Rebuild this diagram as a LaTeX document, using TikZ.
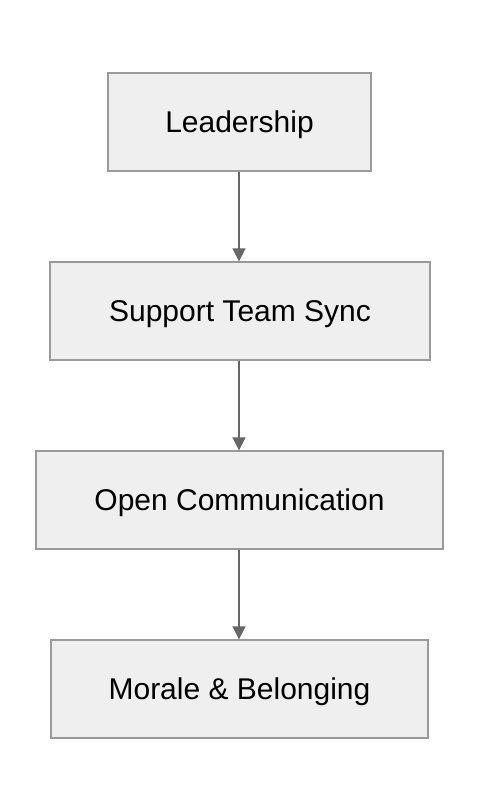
\documentclass[tikz,border=0pt]{standalone}
\usepackage{fontspec}
\setmainfont{Liberation Sans}
\usetikzlibrary{arrows.meta}
\definecolor{boxfill}{HTML}{EFEFEF}
\definecolor{boxline}{HTML}{9A9A9A}
\definecolor{arrowc}{HTML}{666666}
\begin{document}
\begin{tikzpicture}[x=1pt,y=-1pt,
  flowbox/.style={draw=boxline,fill=boxfill,line width=1.3pt,inner sep=0pt,
    font=\fontsize{30}{36}\selectfont,text=black,text height=21.5pt,text depth=0pt},
  flowarrow/.style={draw=arrowc,line width=1.6pt,-{Triangle[length=13pt,width=13pt]}}]
\useasboundingbox (0,0) rectangle (480,812);
\node[flowbox,minimum width=263pt,minimum height=98pt] (a) at (239.5,122) {Leadership};
\node[flowbox,minimum width=380pt,minimum height=98pt] (b) at (240,311) {Support Team Sync};
\node[flowbox,minimum width=407pt,minimum height=98pt] (c) at (239.5,500) {Open Communication};
\node[flowbox,minimum width=377pt,minimum height=98pt] (d) at (239.5,689) {Morale \& Belonging};
\draw[flowarrow] (a.south -| 239,0) -- (b.north -| 239,0);
\draw[flowarrow] (b.south -| 239,0) -- (c.north -| 239,0);
\draw[flowarrow] (c.south -| 239,0) -- (d.north -| 239,0);
\end{tikzpicture}
\end{document}
